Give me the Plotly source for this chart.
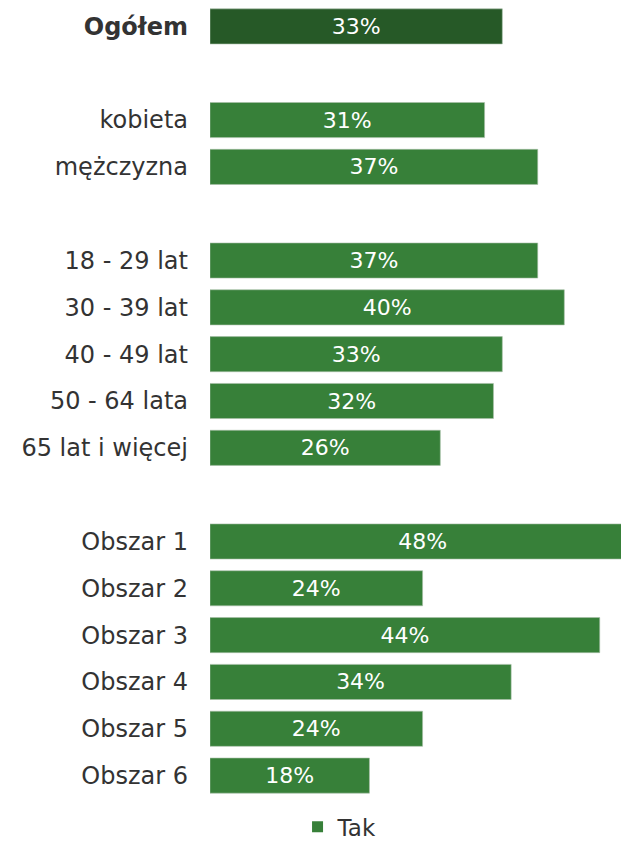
import plotly.graph_objects as go

categories = ["Ogółem", " ", "kobieta", "mężczyzna", "  ", "18 - 29 lat", "30 - 39 lat",
              "40 - 49 lat", "50 - 64 lata", "65 lat i więcej", "   ",
              "Obszar 1", "Obszar 2", "Obszar 3", "Obszar 4", "Obszar 5", "Obszar 6"]
values = [33, None, 31, 37, None, 37, 40, 33, 32, 26, None, 48, 24, 44, 34, 24, 18]
tick_labels = ["<b>Ogółem</b>", "", "kobieta", "mężczyzna", "", "18 - 29 lat", "30 - 39 lat",
               "40 - 49 lat", "50 - 64 lata", "65 lat i więcej", "",
               "Obszar 1", "Obszar 2", "Obszar 3", "Obszar 4", "Obszar 5", "Obszar 6"]
series_name = "Tak"

colors = ["#265927" if c == "Ogółem" else "#378039" for c in categories]
texts = [f"{v}%" if v is not None else "" for v in values]

FONT = "DejaVu Sans"

fig = go.Figure()
fig.add_trace(go.Bar(
    y=categories, x=values, orientation="h", name=series_name,
    marker=dict(color=colors, line=dict(color="#a9bfa9", width=0.6)),
    text=texts, textposition="inside", insidetextanchor="middle",
    textfont=dict(family=FONT, size=22, color="white"),
    cliponaxis=True, showlegend=False,
))
# legend entry
fig.add_trace(go.Scatter(y=[categories[0]], x=[None], mode="markers", name=series_name,
                         marker=dict(color="#378039", symbol="square", size=11),
                         showlegend=True))

fig.update_layout(
    width=621, height=843,
    margin=dict(l=210, r=0, t=3, b=44, autoexpand=False),
    paper_bgcolor="white", plot_bgcolor="white",
    bargap=0.25, barmode="overlay",
    font=dict(family=FONT, color="#333333"),
    xaxis=dict(range=[0, 46.4], visible=False, fixedrange=True),
    yaxis=dict(range=[len(categories) - 0.5, -0.5], tickmode="array", tickvals=categories,
               ticktext=tick_labels, tickfont=dict(size=24, color="#333333"),
               showgrid=False, zeroline=False, showline=False, ticks="",
               ticklabelstandoff=21, automargin=False, fixedrange=True),
    legend=dict(orientation="h", x=0.213, xanchor="left", y=-0.008, yanchor="top",
                font=dict(size=23, color="#333333"), itemwidth=30,
                tracegroupgap=0),
)

fig.write_html("out.html", config={"displayModeBar": False},
               post_script="document.body.style.margin='0';")
